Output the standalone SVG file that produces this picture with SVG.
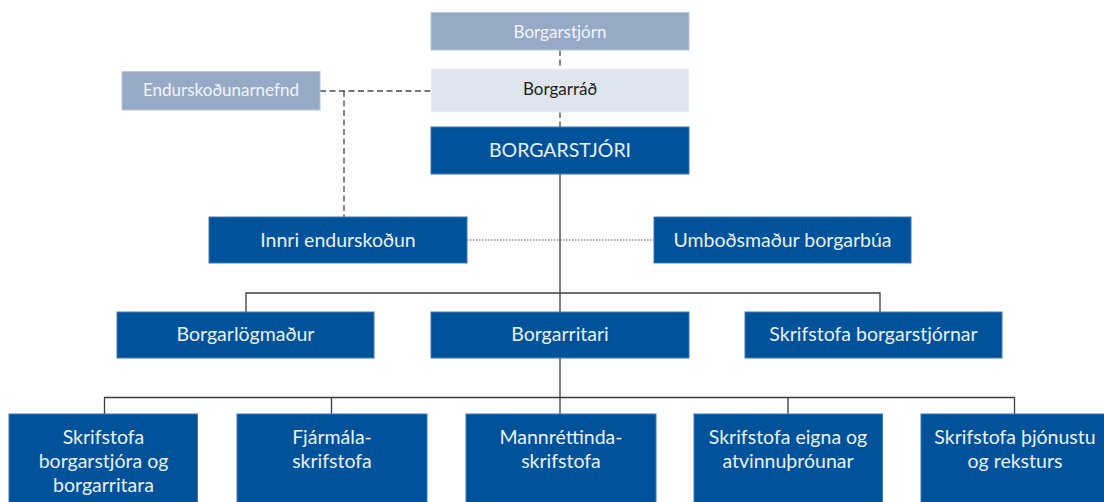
<svg xmlns="http://www.w3.org/2000/svg" width="1104" height="502" viewBox="0 0 1104 502">
<style>
  .dark{fill:#00529b;stroke:#3f78b8;stroke-width:1}
  .mid{fill:#96aac8;stroke:#b9c7dc;stroke-width:1}
  .light{fill:#dfe5ef;stroke:#eef1f6;stroke-width:1}
  text{font-family:Lato,"Open Sans","Liberation Sans",sans-serif;text-anchor:middle}
  .t{font-size:19.5px;fill:#eaf0f8}
  .ts{font-size:17px;fill:#f2f5fa}
  .tk{font-size:17px;fill:#1e1e1e}
  .tb{font-size:19.5px;fill:#eaf0f8}
  .solid{stroke:#3c3c3c;stroke-width:1.3;fill:none}
  .dash{stroke:#4a4a4a;stroke-width:1.3;fill:none;stroke-dasharray:6 3.5}
  .dot{stroke:#555;stroke-width:1.2;fill:none;stroke-dasharray:1.5 1.5}
</style>
<g id="connectors">
  <path class="dash" d="M560 50V69M560 112V127"/>
  <path class="dash" d="M320 91H431M344 91V217"/>
  <path class="solid" d="M560 174V312"/>
  <path class="dot" d="M467 240H654"/>
  <path class="solid" d="M246 312V293H880V312"/>
  <path class="solid" d="M560 358V414"/>
  <path class="solid" d="M104.5 414V397.5H1014.5V414M331.5 397.5V414M788 397.5V414"/>
</g>
<g id="borgarstjorn"><rect class="mid" x="431" y="12.5" width="258" height="37.5"/><text class="ts" x="560" y="37.5">Borgarstjórn</text></g>
<g id="borgarrad"><rect class="light" x="431" y="69" width="258" height="43"/><text class="tk" x="560" y="95">Borgarráð</text></g>
<g id="endurskodunarnefnd"><rect class="mid" x="122" y="71.5" width="198" height="38.5"/><text class="ts" x="221" y="96">Endurskoðunarnefnd</text></g>
<g id="borgarstjori"><rect class="dark" x="431" y="127" width="258" height="47"/><text class="tb" x="560" y="157">BORGARSTJÓRI</text></g>
<g id="innri"><rect class="dark" x="209" y="217" width="258" height="46"/><text class="t" x="338" y="246.5">Innri endurskoðun</text></g>
<g id="umbodsmadur"><rect class="dark" x="654" y="217" width="257" height="46"/><text class="t" x="782.5" y="246.5">Umboðsmaður borgarbúa</text></g>
<g id="borgarlogmadur"><rect class="dark" x="117" y="312" width="257" height="46"/><text class="t" x="245.5" y="341">Borgarlögmaður</text></g>
<g id="borgarritari"><rect class="dark" x="431" y="312" width="258" height="46"/><text class="t" x="560" y="341">Borgarritari</text></g>
<g id="skrifstofa-borgarstjornar"><rect class="dark" x="745" y="312" width="257" height="46"/><text class="t" x="873.5" y="341">Skrifstofa borgarstjórnar</text></g>
<g id="skrifstofa-borgarstjora"><rect class="dark" x="9" y="414" width="188.5" height="92"/><text class="t" x="103.5" y="444">Skrifstofa</text><text class="t" x="103.5" y="468">borgarstjóra og</text><text class="t" x="103.5" y="492">borgarritara</text></g>
<g id="fjarmala"><rect class="dark" x="237" y="414" width="190" height="92"/><text class="t" x="332" y="444">Fjármála-</text><text class="t" x="332" y="468">skrifstofa</text></g>
<g id="mannrettinda"><rect class="dark" x="466" y="414" width="190" height="92"/><text class="t" x="561" y="444">Mannréttinda-</text><text class="t" x="561" y="468">skrifstofa</text></g>
<g id="eigna"><rect class="dark" x="694" y="414" width="188.5" height="92"/><text class="t" x="788" y="444">Skrifstofa eigna og</text><text class="t" x="788" y="468">atvinnuþróunar</text></g>
<g id="thjonustu"><rect class="dark" x="921" y="414" width="190" height="92"/><text class="t" x="1015" y="444">Skrifstofa þjónustu</text><text class="t" x="1015" y="468">og reksturs</text></g>
</svg>
